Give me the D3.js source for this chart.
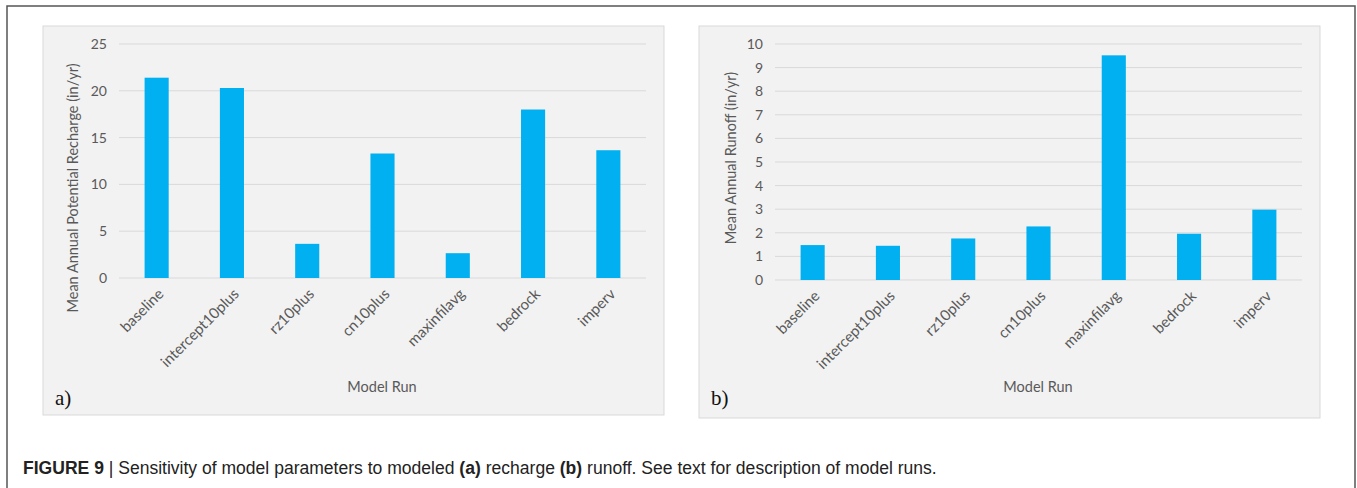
<!DOCTYPE html>
<meta charset="utf-8">
<style>
  body { margin: 0; background: #fff; }
  svg { display: block; }
</style>
<svg width="1357" height="488"></svg>
<script src="https://d3js.org/d3.v7.min.js"></script>
<script>

// data
var runs = ["baseline", "intercept10plus", "rz10plus", "cn10plus", "maxinfilavg", "bedrock", "imperv"];
var recharge = [21.4, 20.3, 3.65, 13.3, 2.65, 18.0, 13.65];
var runoff = [1.48, 1.45, 1.76, 2.27, 9.52, 1.96, 2.98];
var rechargeTicks = [0, 5, 10, 15, 20, 25];
var runoffTicks = [0, 1, 2, 3, 4, 5, 6, 7, 8, 9, 10];

var svg = d3.select("svg");
var txt = "#595959";
var font = "Lato, 'Open Sans', sans-serif";

// outer frame
svg.append("rect")
  .attr("x", 7).attr("y", 6)
  .attr("width", 1348).attr("height", 500)
  .attr("fill", "none")
  .attr("stroke", "#555")
  .attr("stroke-width", 1.5);

function panel(opt) {
  var g = svg.append("g");

  g.append("rect")
    .attr("x", opt.bx).attr("y", 26)
    .attr("width", opt.bw).attr("height", opt.bh)
    .attr("fill", "#f2f2f2")
    .attr("stroke", "#d9d9d9");

  var x = d3.scaleBand().domain(runs).range([opt.left, opt.left + 527]).paddingInner(0.68).paddingOuter(0.34);
  var y = d3.scaleLinear().domain([0, opt.max]).range([opt.zero, 44]);

  // gridlines
  g.append("g").selectAll("line")
    .data(opt.ticks)
    .enter().append("line")
    .attr("x1", opt.left).attr("x2", opt.left + 527)
    .attr("y1", function(d) { return y(d); })
    .attr("y2", function(d) { return y(d); })
    .attr("stroke", "#d9d9d9")
    .attr("stroke-width", 1);

  // y tick labels
  g.append("g").selectAll("text")
    .data(opt.ticks)
    .enter().append("text")
    .attr("x", opt.left - 12)
    .attr("y", function(d) { return y(d); })
    .attr("dy", "0.35em")
    .attr("text-anchor", "end")
    .attr("font-family", font)
    .attr("font-size", 14)
    .attr("fill", txt)
    .text(function(d) { return d; });

  // bars
  g.append("g").selectAll("rect")
    .data(opt.values)
    .enter().append("rect")
    .attr("x", function(d, i) { return x(runs[i]); })
    .attr("width", x.bandwidth())
    .attr("y", function(d) { return y(d); })
    .attr("height", function(d) { return y(0) - y(d); })
    .attr("fill", "#00b0f0");

  // x labels
  g.append("g").selectAll("text")
    .data(runs)
    .enter().append("text")
    .attr("text-anchor", "end")
    .attr("font-family", font)
    .attr("font-size", 15)
    .attr("fill", txt)
    .attr("transform", function(d) {
      return "translate(" + (x(d) + x.bandwidth() / 2 + 8) + "," + (opt.zero + 17) + ") rotate(-45)";
    })
    .text(function(d) { return d; });

  // y title
  g.append("text")
    .attr("transform", "translate(" + opt.tx + "," + opt.ty + ") rotate(-90)")
    .attr("text-anchor", "middle")
    .attr("font-family", font)
    .attr("font-size", 14.5)
    .attr("fill", txt)
    .text(opt.title);

  // x title
  g.append("text")
    .attr("x", opt.left + 263).attr("y", 392)
    .attr("text-anchor", "middle")
    .attr("font-family", font)
    .attr("font-size", 14.5)
    .attr("fill", txt)
    .text("Model Run");

  // panel letter
  g.append("text")
    .attr("x", opt.bx + 12).attr("y", 405)
    .attr("font-family", "'Liberation Serif', 'DejaVu Serif', serif")
    .attr("font-size", 21)
    .attr("fill", "#111")
    .text(opt.letter);
}

panel({ bx: 43, bw: 621, bh: 389, left: 119, zero: 278, max: 25, ticks: rechargeTicks,
        values: recharge, title: "Mean Annual Potential Recharge (in/yr)", tx: 78, ty: 188, letter: "a)" });
panel({ bx: 699, bw: 621, bh: 392, left: 775, zero: 280, max: 10, ticks: runoffTicks,
        values: runoff, title: "Mean Annual Runoff (in/yr)", tx: 736, ty: 158, letter: "b)" });

// caption
var cap = svg.append("text")
  .attr("x", 0).attr("y", 0)
  .attr("font-family", "'Liberation Sans', Arial, sans-serif")
  .attr("font-size", 17.5)
  .attr("fill", "#222");
cap.append("tspan").attr("font-weight", "bold").text("FIGURE 9");
cap.append("tspan").text(" | Sensitivity of model parameters to modeled ");
cap.append("tspan").attr("font-weight", "bold").text("(a)");
cap.append("tspan").text(" recharge ");
cap.append("tspan").attr("font-weight", "bold").text("(b)");
cap.append("tspan").text(" runoff. See text for description of model runs.");
var w = cap.node().getComputedTextLength();
cap.attr("transform", "translate(23,474) scale(" + (914 / w) + ",1)");

</script>
